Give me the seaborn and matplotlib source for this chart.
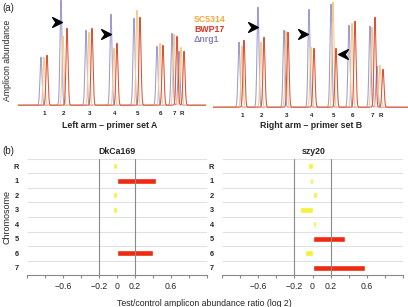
import numpy as np
import matplotlib
matplotlib.use("Agg")
import matplotlib.pyplot as plt
from matplotlib.path import Path
import seaborn as sns
import pandas as pd

sns.set_style("white")
plt.rcParams['font.family'] = ['Liberation Sans', 'DejaVu Sans']

# ---- panel (a) data: peak positions (run position) and heights per strain ----
chrom_labels = ['1', '2', '3', '4', '5', '6', '7', 'R']

left_pos_blue = [41, 61, 86, 111, 134, 157, 172, 179]
left_pos_yellow = [44, 63, 89, 114, 137, 160, 174, 181]
left_pos_red = [47, 67, 92, 117, 140, 163, 177, 184]
left_h_blue = [48, 105, 75, 91, 87, 59, 72, 54]
left_h_yellow = [48, 69, 73, 57, 95, 62, 71, 58]
left_h_red = [50, 77, 77, 62, 88, 60, 69, 54]

right_pos_blue = [239, 258, 284, 309, 331, 349, 370, 377]
right_pos_yellow = [242, 261, 286, 311, 333, 352, 372, 380]
right_pos_red = [244, 264, 288, 314, 336, 355, 375, 383]
right_h_blue = [65, 100, 77, 98, 103, 82, 81, 41]
right_h_yellow = [61, 65, 76, 60, 105, 84, 80, 42]
right_h_red = [67, 70, 75, 59, 59, 86, 90, 38]

# ---- panel (b) data: log2 test/control ratio ----
chromosomes = ['R', '1', '2', '3', '4', '5', '6', '7']
dkca169 = [-0.04, 0.43, -0.04, -0.04, -0.01, 0.005, 0.40, 0.005]
szy20 = [-0.05, -0.03, 0.045, -0.14, 0.035, 0.36, -0.08, 0.58]

W, H = 408, 307
fig = plt.figure(figsize=(W / 100, H / 100), dpi=100)


def px_axes(x0, y0, x1, y1):
    return fig.add_axes([x0 / W, 1 - y1 / H, (x1 - x0) / W, (y1 - y0) / H])


def trace(x, pos, h, sigma=1.0):
    y = np.zeros_like(x)
    for p, hh in zip(pos, h):
        y += hh * np.exp(-0.5 * ((x - p) / sigma) ** 2)
    return y


blue, yellow, red = '#9c9cd2', '#f8c98a', '#dc5238'

chevron = Path([(-1, 1), (1, 0), (-1, -1), (-0.3, 0), (-1, 1)],
               [Path.MOVETO, Path.LINETO, Path.LINETO, Path.LINETO, Path.CLOSEPOLY])
chevron_l = Path([(1, 1), (-1, 0), (1, -1), (0.3, 0), (1, 1)],
                 [Path.MOVETO, Path.LINETO, Path.LINETO, Path.LINETO, Path.CLOSEPOLY])

panels = [
    dict(box=(18, 0, 206, 110), xlim=(18, 206), ylim=(-4, 106),
         pos=(left_pos_blue, left_pos_yellow, left_pos_red),
         h=(left_h_blue, left_h_yellow, left_h_red),
         arrows=[(57, 84, chevron), (106, 72, chevron)],
         title='Left arm \u2013 primer set A', tx=110),
    dict(box=(213, 0, 408, 112), xlim=(213, 408), ylim=(-4, 108),
         pos=(right_pos_blue, right_pos_yellow, right_pos_red),
         h=(right_h_blue, right_h_yellow, right_h_red),
         arrows=[(253, 81, chevron), (303, 74, chevron), (343, 54, chevron_l)],
         title='Right arm \u2013 primer set B', tx=311),
]

for p in panels:
    ax = px_axes(*p['box'])
    x = np.linspace(p['xlim'][0], p['xlim'][1], 3000)
    for pos, h, c in zip(p['pos'], p['h'], (blue, yellow, red)):
        sns.lineplot(x=x, y=trace(x, pos, h) + 0.8, color=c, lw=0.75, ax=ax)
    for ax_x, ax_y, m in p['arrows']:
        ax.plot(ax_x, ax_y, marker=m, color='black', ms=7, ls='none')
    for lx, lab in zip(p['pos'][1], chrom_labels):
        ax.text(lx + 0.5, -8, lab, ha='center', va='center', fontsize=4.5,
                fontweight='bold', clip_on=False)
    ax.set_xlim(*p['xlim'])
    ax.set_ylim(*p['ylim'])
    ax.axis('off')
    fig.text(p['tx'] / W, 1 - 125 / H, p['title'], ha='center', va='center',
             fontsize=6.3, fontweight='bold')

fig.text(2 / W, 1 - 8 / H, '(a)', fontsize=7, va='center')
fig.text(8 / W, 1 - 60 / H, 'Amplicon abundance', rotation=90, fontsize=6.2,
         ha='center', va='center')
fig.text(194 / W, 1 - 20 / H, 'SC5314', color='#f5a93a', fontsize=6.3,
         fontweight='bold', va='center')
fig.text(194 / W, 1 - 30 / H, 'BWP17', color='#e03020', fontsize=6.3,
         fontweight='bold', va='center')
fig.text(194 / W, 1 - 40 / H, '\u0394nrg1', color='#8888c0', fontsize=6.3,
         fontweight='bold', va='center')

# ---- panel (b) ----
bar_yellow, bar_red = '#f2f23a', '#ee2a10'
ticks = np.round(np.arange(-1.0, 1.01, 0.2), 1)
shown = {-0.6: '\u22120.6', -0.2: '\u22120.2', 0.0: '0', 0.2: '0.2', 0.6: '0.6'}

for box, vals, name, tx in [((27, 159, 207, 275), dkca169, 'DkCa169', 117),
                            ((222, 159, 403, 275), szy20, 'szy20', 314)]:
    ax = px_axes(*box)
    df = pd.DataFrame({'chrom': chromosomes, 'ratio': vals})
    cols = [bar_red if abs(v) > 0.2 else bar_yellow for v in vals]
    ax.hlines(np.arange(-0.5, 7.0, 1.0), -1, 1, color='#dde2ea', lw=0.8, zorder=0)
    sns.barplot(data=df, x='ratio', y='chrom', hue='chrom', palette=cols,
                legend=False, orient='h', width=0.42, saturation=1, ax=ax, zorder=2)
    ax.axvline(-0.2, color='#8a8a8a', lw=0.8, zorder=3)
    ax.axvline(0.2, color='#8a8a8a', lw=0.8, zorder=3)
    ax.set_xlim(-1, 1)
    ax.set_ylim(7.5, -0.5)
    ax.set_xticks(ticks)
    ax.set_xticklabels([shown.get(t, '') for t in ticks])
    ax.tick_params(axis='x', direction='out', length=2.5, color='#888888',
                   labelsize=6.3, pad=2.5, bottom=True)
    ax.tick_params(axis='y', length=0, labelsize=5.3, pad=6)
    for t in ax.get_yticklabels():
        t.set_fontweight('bold')
    ax.set_xlabel('')
    ax.set_ylabel('')
    for s in ('top', 'right', 'left'):
        ax.spines[s].set_visible(False)
    ax.spines['bottom'].set_color('#888888')
    ax.spines['bottom'].set_linewidth(0.8)
    fig.text(tx / W, 1 - 151 / H, name, ha='center', va='center', fontsize=6.3,
             fontweight='bold')

fig.text(2 / W, 1 - 151 / H, '(b)', fontsize=7, va='center')
fig.text(7 / W, 1 - 217 / H, 'Chromosome', rotation=90, fontsize=6.5,
         ha='center', va='center')
fig.text(204 / W, 1 - 303 / H, 'Test/control amplicon abundance ratio (log 2)',
         ha='center', va='center', fontsize=6.3)

fig.savefig('out.png', dpi=100)
